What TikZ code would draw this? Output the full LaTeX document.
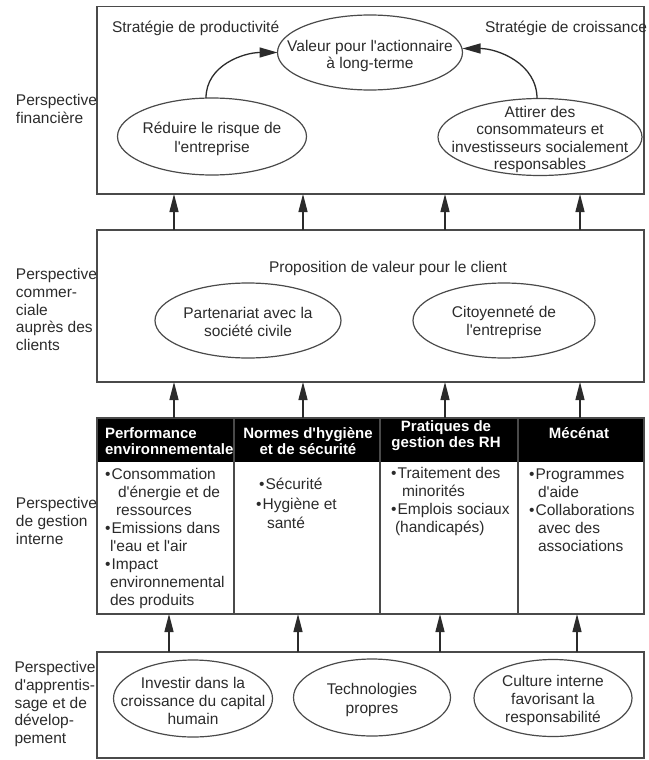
\documentclass[tikz,border=0pt]{standalone}
\usepackage{fontspec}
\setmainfont{Liberation Sans}
\usetikzlibrary{arrows.meta,shapes.geometric}
\definecolor{txt}{HTML}{2B2B2B}
\definecolor{ln}{HTML}{4A4A4A}
\newcommand{\q}{\textquotesingle}
\newcommand{\bul}{•\hspace{1.2pt}}
\begin{document}
\begin{tikzpicture}[x=1pt,y=-1pt,
  every node/.style={inner sep=0pt,outer sep=0pt,text=txt},
  tx/.style={font=\fontsize{15.5}{18}\selectfont,align=center},
  lbl/.style={font=\fontsize{15.5}{17.6}\selectfont,align=left,anchor=west},
  col/.style={font=\fontsize{15.5}{18}\selectfont,align=left,anchor=west},
  hd/.style={font=\fontsize{15}{16}\selectfont\bfseries,text=white},
  box/.style={draw=ln,line width=1.4pt,rectangle,minimum width=547pt,anchor=north west},
  ell/.style={draw=ln,ellipse,line width=1.2pt},
  carr/.style={draw=txt,line width=1.3pt,-{Triangle[length=18pt,width=10pt]}},
  varr/.style={draw=txt,line width=1.3pt,-{Triangle[length=18pt,width=9pt]}}
]
\useasboundingbox (0,0) rectangle (648,760);
% boxes
\node[box,minimum height=187.5pt] (fin) at (97,6.5) {};
\node[box,minimum height=152pt] (cust) at (97,230) {};
\node[fill=black,minimum width=547pt,minimum height=44pt,anchor=north west] (hdr) at (97,418) {};
\node[box,minimum height=196pt] (proc) at (97,418) {};
\node[box,minimum height=106pt] (learn) at (97,652) {};
\draw[draw=ln,line width=1.4pt] (234,418) -- (234,614) (380,418) -- (380,614) (518,418) -- (518,614);
% side labels
\node[lbl] (l1) at (16,109) {Perspective\\financière};
\node[lbl] (l2) at (16,309.5) {Perspective\\commer-\\ciale\\auprès des\\clients};
\node[lbl] (l3) at (16,521) {Perspective\\de gestion\\interne};
\node[lbl] (l4) at (14.5,704) {Perspective\\d\q apprentis-\\sage et de\\dévelop-\\pement};
% financial
\node[tx,anchor=west] (s1) at (112,28) {Stratégie de productivité};
\node[tx,anchor=west] (s2) at (485,28) {Stratégie de croissance};
\node[ell,minimum width=185pt,minimum height=75pt] (valeur) at (370,52.5) {};
\node[tx,font=\fontsize{15.5}{16.5}\selectfont] (valeurT) at (370,56) {Valeur pour l\q actionnaire\\à long-terme};
\node[ell,minimum width=189pt,minimum height=77pt] (reduire) at (212,136.5) {};
\node[tx,font=\fontsize{15.5}{19}\selectfont] (reduireT) at (212,138.5) {Réduire le risque de\\l\q entreprise};
\node[ell,minimum width=204pt,minimum height=77pt] (attirer) at (540,137) {};
\node[tx,font=\fontsize{15.5}{17.5}\selectfont] (attirerT) at (540,139.5) {Attirer des\\consommateurs et\\investisseurs socialement\\responsables};
\draw[carr] ([xshift=-6pt]reduire.north) to[out=90,in=180] (valeur.west);
\draw[carr] ([xshift=-3pt]attirer.north) to[out=90,in=0] ([yshift=4pt]valeur.east);
% customer
\node[tx] (prop) at (388,268) {Proposition de valeur pour le client};
\node[ell,minimum width=186pt,minimum height=75pt] (part) at (248,320.5) {};
\node[tx] (partT) at (248,322) {Partenariat avec la\\société civile};
\node[ell,minimum width=182pt,minimum height=75pt] (cit) at (504,320.5) {};
\node[tx] (citT) at (504,322) {Citoyenneté de\\l\q entreprise};
% internal process headers
\node[hd,align=left,anchor=west] (h1) at (105,441) {Performance\\environnementale};
\node[hd,align=center] (h2) at (308,441) {Normes d\q hygiène\\et de sécurité};
\node[hd,align=center] (h3) at (446,436) {Pratiques de\\gestion des RH};
\node[hd] (h4) at (579,433) {Mécénat};
% columns
\node[col] (c1) at (105,538) {\bul Consommation\\\hspace*{13pt}d\q énergie et de\\\hspace*{11pt}ressources\\\bul Emissions dans\\\hspace*{5pt}l\q eau et l\q air\\\bul Impact\\\hspace*{5pt}environnemental\\\hspace*{5pt}des produits};
\node[col,font=\fontsize{15.5}{19.5}\selectfont] (c2) at (256,503.5) {\hspace*{3pt}\bul Sécurité\\\bul Hygiène et\\\hspace*{11pt}santé};
\node[col] (c3) at (391,501.5) {\bul Traitement des\\\hspace*{11pt}minorités\\\bul Emplois sociaux\\\hspace*{4pt}(handicapés)};
\node[col] (c4) at (529,510.5) {\bul Programmes\\\hspace*{9pt}d\q aide\\\bul Collaborations\\\hspace*{9pt}avec des\\\hspace*{9pt}associations};
% learning
\node[ell,minimum width=159pt,minimum height=77pt] (inv) at (193,698.5) {};
\node[tx] (invT) at (193,701) {Investir dans la\\croissance du capital\\humain};
\node[ell,minimum width=157pt,minimum height=77pt] (tech) at (372,697.5) {};
\node[tx,font=\fontsize{15.5}{19}\selectfont] (techT) at (372,699.5) {Technologies\\propres};
\node[ell,minimum width=158pt,minimum height=77pt] (cult) at (553,698) {};
\node[tx] (cultT) at (553,700.5) {Culture interne\\favorisant la\\responsabilité};
% vertical arrows
\foreach \dx in {-196.5,-67.5,74.5,209.5}{
  \draw[varr] ([xshift=\dx pt]cust.north) -- ([xshift=\dx pt]fin.south);
  \draw[varr] ([xshift=\dx pt]proc.north) -- ([xshift=\dx pt]cust.south);
}
\foreach \dx in {-201.5,-72.5,69.5,206.5}{
  \draw[varr] ([xshift=\dx pt]learn.north) -- ([xshift=\dx pt]proc.south);
}
\end{tikzpicture}
\end{document}
